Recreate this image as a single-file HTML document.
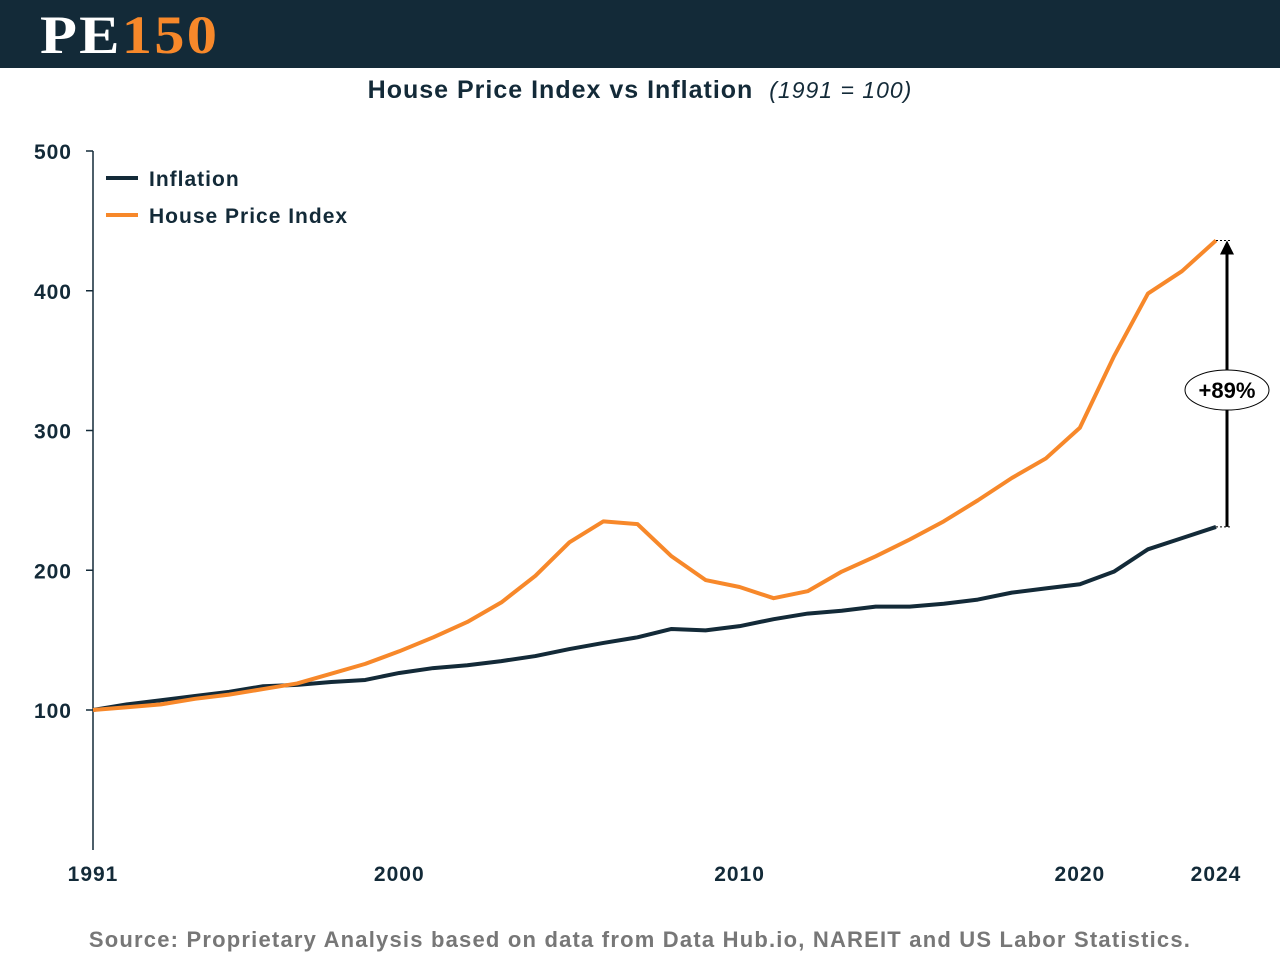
<!DOCTYPE html>
<html><head><meta charset="utf-8"><style>
body{margin:0;width:1280px;height:960px;background:#fff;overflow:hidden;font-family:"Liberation Sans",sans-serif}
.hdr{position:absolute;left:0;top:0;width:1280px;height:68px;background:#132a38}
.logo{position:absolute;left:40px;top:4px;font-family:"Liberation Serif",serif;font-weight:bold;font-size:54px;letter-spacing:2px;transform:scaleX(1.12);transform-origin:left}
</style></head><body>
<div class="hdr">
<div class="logo"><span style="color:#fff">PE</span><span style="color:#f7882a">150</span></div></div>
<svg id="c" width="1280" height="960" style="position:absolute;left:0;top:0"></svg>
<script>
const years=[1991,1992,1993,1994,1995,1996,1997,1998,1999,2000,2001,2002,2003,2004,2005,2006,2007,2008,2009,2010,2011,2012,2013,2014,2015,2016,2017,2018,2019,2020,2021,2022,2023,2024];
const inflation=[100,104,107,110,113,117,118,120,121.5,126.5,130,132,135,138.6,143.6,148,152,158,157,160,165,169,171,174,174,176,179,184,187,190,199,215,223,231];
const hpi=[100,102,104,108,111,115,119,126,133,142,152,163,177,196,220,235,233,210,193,188,180,185,199,210,222,235,250,266,280,302,353,398,414,436];
const yTicks=[100,200,300,400,500];
const xTicks=[1991,2000,2010,2020,2024];
const NS="http://www.w3.org/2000/svg",svg=document.getElementById('c');
const X=v=>93+(v-1991)*(1123/33), Y=v=>849.75-v*1.3975;
function mk(t,a,txt){const e=document.createElementNS(NS,t);for(const k in a)e.setAttribute(k,a[k]);if(txt!=null)e.textContent=txt;svg.appendChild(e);return e;}
let e;
e=mk('text',{x:640,y:98,'text-anchor':'middle','font-size':25,'font-weight':'bold',fill:'#132a38','letter-spacing':1});
e.innerHTML='House Price Index vs Inflation <tspan font-weight="normal" font-style="italic" font-size="23" dx="8">(1991 = 100)</tspan>';


e=mk('line',{x1:93,y1:151,x2:93,y2:850,stroke:'#132a38','stroke-width':1.5});


yTicks.forEach(v=>{
 mk('line',{x1:86,x2:93,y1:Y(v),y2:Y(v),stroke:'#132a38','stroke-width':1.5});
 e=mk('text',{x:72,y:Y(v)+8,'text-anchor':'end','font-size':21,'font-weight':'bold',fill:'#132a38','letter-spacing':1},v);
 
 
});
xTicks.forEach(v=>{
 e=mk('text',{x:X(v),y:881,'text-anchor':'middle','font-size':21,'font-weight':'bold',fill:'#132a38','letter-spacing':1},v);
 
 
});
function line(d,c,n){e=mk('polyline',{points:d.map((v,i)=>X(years[i])+','+Y(v)).join(' '),fill:'none',stroke:c,'stroke-width':4,'stroke-linejoin':'round'});
 
 }
line(inflation,'#132a38','inflation-line');
line(hpi,'#f7882a','house-price-line');
[['Inflation','#132a38',178],['House Price Index','#f7882a',215]].forEach(l=>{
 e=mk('g',{});
 
 
 const a=document.createElementNS(NS,'line');a.setAttribute('x1',106);a.setAttribute('x2',138);a.setAttribute('y1',l[2]);a.setAttribute('y2',l[2]);a.setAttribute('stroke',l[1]);a.setAttribute('stroke-width',4);e.appendChild(a);
 const t=document.createElementNS(NS,'text');t.setAttribute('x',149);t.setAttribute('y',l[2]+8);t.setAttribute('font-size',21);t.setAttribute('font-weight','bold');t.setAttribute('fill','#132a38');t.setAttribute('letter-spacing',1);t.textContent=l[0];e.appendChild(t);
});
const li=years.length-1,yt=Y(hpi[li]),yb=Y(inflation[li]);
mk('line',{x1:1216,x2:1232,y1:yt,y2:yt,stroke:'#000','stroke-dasharray':'2,2'});
mk('line',{x1:1216,x2:1232,y1:yb,y2:yb,stroke:'#000','stroke-dasharray':'2,2'});
mk('line',{x1:1227,x2:1227,y1:yt+12,y2:yb,stroke:'#000','stroke-width':3});
mk('polygon',{points:`1220,${yt+14} 1234,${yt+14} 1227,${yt}`,fill:'#000'});
e=mk('ellipse',{cx:1227,cy:390,rx:42,ry:20,fill:'#fff',stroke:'#000','stroke-width':1});


mk('text',{x:1227,y:398,'text-anchor':'middle','font-size':22,'font-weight':'bold',fill:'#000'},'+'+Math.round((hpi[li]/inflation[li]-1)*100)+'%');
e=mk('text',{x:640,y:947,'text-anchor':'middle','font-size':22,'font-weight':'bold',fill:'#777','letter-spacing':1.2},'Source: Proprietary Analysis based on data from Data Hub.io, NAREIT and US Labor Statistics.');


</script>
</body></html>
